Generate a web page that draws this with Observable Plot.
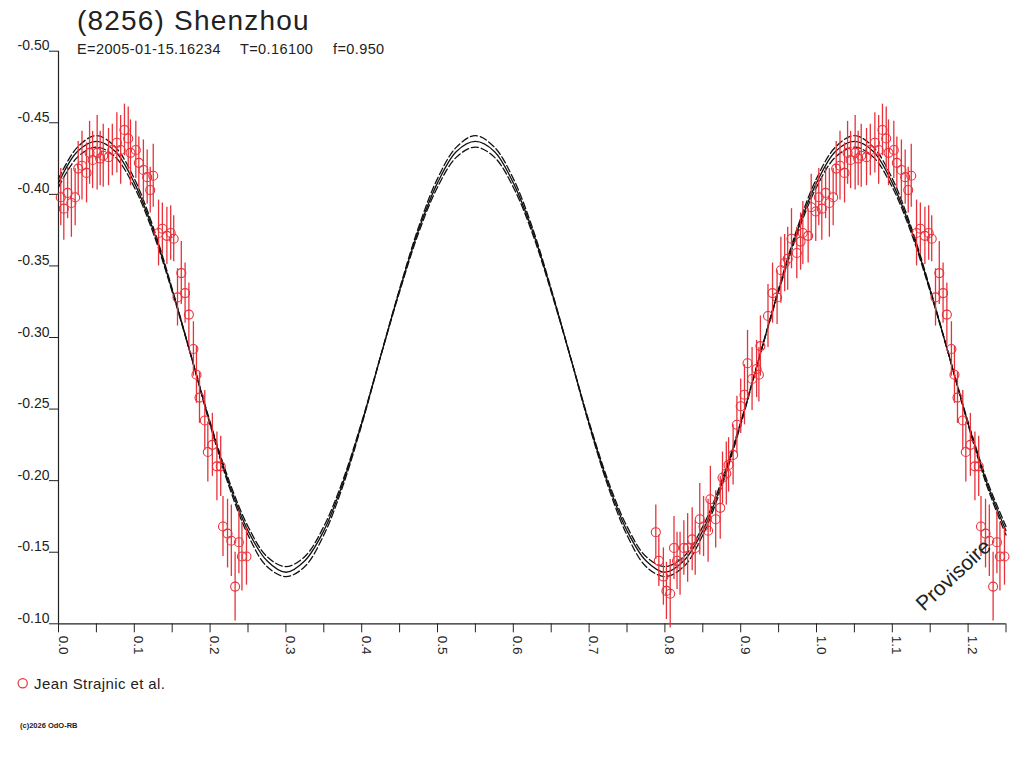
<!DOCTYPE html>
<html>
<head>
<meta charset="utf-8">
<script src="https://cdn.jsdelivr.net/npm/d3@7"></script>
<script src="https://cdn.jsdelivr.net/npm/@observablehq/plot@0.6"></script>
<style>
  html, body { margin: 0; padding: 0; background: #fff; }
  #chart { position: relative; width: 1024px; height: 768px; }
  svg { font-family: "Liberation Sans", Arial, sans-serif; }
</style>
</head>
<body>
<div id="chart"></div>
<script>
// ---- texts ----
const titleText = "(8256) Shenzhou";
const subE = "E=2005-01-15.16234";
const subT = "T=0.16100";
const subF = "f=0.950";
const legendLabel = "Jean Strajnic et al.";
const copyrightText = "(c)2026 OdO-RB";
const watermark = "Provisoire";

// ---- ticks ----
const yTicks = [-0.50, -0.45, -0.40, -0.35, -0.30, -0.25, -0.20, -0.15, -0.10];
const xLabelTicks = [0.0, 0.1, 0.2, 0.3, 0.4, 0.5, 0.6, 0.7, 0.8, 0.9, 1.0, 1.1, 1.2];
const xMinorTicks = [0.00, 0.05, 0.10, 0.15, 0.20, 0.25, 0.30, 0.35, 0.40, 0.45, 0.50, 0.55, 0.60,
  0.65, 0.70, 0.75, 0.80, 0.85, 0.90, 0.95, 1.00, 1.05, 1.10, 1.15, 1.20, 1.25];

// ---- fitted curve ----
const fitPhase = [0.000, 0.025, 0.050, 0.075, 0.100, 0.125, 0.150, 0.175, 0.200, 0.225,
  0.250, 0.275, 0.300, 0.325, 0.350, 0.375, 0.400, 0.425, 0.450, 0.475,
  0.500, 0.525, 0.550, 0.575, 0.600, 0.625, 0.650, 0.675, 0.700, 0.725,
  0.750, 0.775, 0.800, 0.825, 0.850, 0.875, 0.900, 0.925, 0.950, 0.975,
  1.000, 1.025, 1.050, 1.075, 1.100, 1.125, 1.150, 1.175, 1.200, 1.225, 1.250];
const fitMid = [-0.408, -0.430, -0.437, -0.430, -0.408, -0.375, -0.333, -0.287, -0.240, -0.198,
  -0.165, -0.144, -0.136, -0.144, -0.165, -0.198, -0.240, -0.287, -0.333, -0.375,
  -0.408, -0.430, -0.437, -0.430, -0.408, -0.375, -0.333, -0.287, -0.240, -0.198,
  -0.165, -0.144, -0.136, -0.144, -0.165, -0.198, -0.240, -0.287, -0.333, -0.375,
  -0.408, -0.430, -0.437, -0.430, -0.408, -0.375, -0.333, -0.287, -0.240, -0.198, -0.165];
const fitHigh = [-0.411, -0.433, -0.441, -0.433, -0.411, -0.377, -0.334, -0.287, -0.239, -0.196,
  -0.162, -0.140, -0.133, -0.140, -0.162, -0.196, -0.239, -0.287, -0.334, -0.377,
  -0.411, -0.433, -0.441, -0.433, -0.411, -0.377, -0.334, -0.287, -0.239, -0.196,
  -0.162, -0.140, -0.133, -0.140, -0.162, -0.196, -0.239, -0.287, -0.334, -0.377,
  -0.411, -0.433, -0.441, -0.433, -0.411, -0.377, -0.334, -0.287, -0.239, -0.196, -0.162];
const fitLow = [-0.405, -0.426, -0.433, -0.426, -0.405, -0.373, -0.332, -0.287, -0.241, -0.200,
  -0.168, -0.147, -0.140, -0.147, -0.168, -0.200, -0.241, -0.287, -0.332, -0.373,
  -0.405, -0.426, -0.433, -0.426, -0.405, -0.373, -0.332, -0.287, -0.241, -0.200,
  -0.168, -0.147, -0.140, -0.147, -0.168, -0.200, -0.241, -0.287, -0.332, -0.373,
  -0.405, -0.426, -0.433, -0.426, -0.405, -0.373, -0.332, -0.287, -0.241, -0.200, -0.168];

// ---- observations (phase, magnitude, error) ----
const obsPhase = [0.003, 0.007, 0.012, 0.017, 0.022, 0.026, 0.031, 0.037, 0.041, 0.045,
  0.051, 0.055, 0.059, 0.066, 0.071, 0.077, 0.082, 0.087, 0.092, 0.095,
  0.102, 0.106, 0.112, 0.117, 0.121, 0.125, 0.132, 0.137, 0.143, 0.148,
  0.152, 0.162, 0.157, 0.167, 0.172, 0.178, 0.182, 0.186, 0.193, 0.203,
  0.197, 0.209, 0.214, 0.217, 0.223, 0.228, 0.238, 0.242, 0.248, 0.233,
  0.788, 0.792, 0.798, 0.802, 0.807, 0.812, 0.816, 0.820, 0.825, 0.830,
  0.836, 0.840, 0.846, 0.851, 0.857, 0.860, 0.867, 0.873, 0.876, 0.881,
  0.884, 0.890, 0.895, 0.900, 0.905, 0.909, 0.915, 0.921, 0.926, 0.924,
  0.936, 0.942, 0.948, 0.953, 0.958, 0.962, 0.967, 0.974, 0.979, 0.982,
  0.989, 0.993, 0.999];
const obsMag = [-0.398, -0.390, -0.401, -0.394, -0.398, -0.418, -0.420, -0.415, -0.429, -0.424,
  -0.429, -0.425, -0.427, -0.426, -0.431, -0.436, -0.431, -0.445, -0.439, -0.429,
  -0.431, -0.422, -0.417, -0.412, -0.403, -0.413, -0.373, -0.376, -0.371, -0.373,
  -0.369, -0.345, -0.328, -0.331, -0.316, -0.292, -0.274, -0.258, -0.242, -0.225,
  -0.220, -0.210, -0.210, -0.168, -0.163, -0.158, -0.157, -0.147, -0.147, -0.126,
  -0.164, -0.144, -0.133, -0.123, -0.121, -0.153, -0.144, -0.142, -0.153, -0.153,
  -0.159, -0.153, -0.173, -0.168, -0.165, -0.187, -0.173, -0.181, -0.202, -0.205,
  -0.211, -0.218, -0.239, -0.252, -0.260, -0.282, -0.271, -0.278, -0.294, -0.274,
  -0.315, -0.331, -0.328, -0.347, -0.352, -0.355, -0.369, -0.359, -0.367, -0.373,
  -0.371, -0.391, -0.388];
const obsErr = [0.020, 0.022, 0.018, 0.024, 0.020, 0.019, 0.024, 0.021, 0.022, 0.020,
  0.026, 0.019, 0.022, 0.020, 0.018, 0.021, 0.024, 0.018, 0.022, 0.023,
  0.020, 0.018, 0.021, 0.019, 0.016, 0.022, 0.023, 0.018, 0.020, 0.019,
  0.016, 0.022, 0.020, 0.021, 0.022, 0.019, 0.020, 0.018, 0.021, 0.022,
  0.021, 0.024, 0.021, 0.021, 0.024, 0.025, 0.022, 0.024, 0.020, 0.024,
  0.019, 0.018, 0.020, 0.020, 0.024, 0.022, 0.020, 0.022, 0.019, 0.024,
  0.022, 0.019, 0.025, 0.021, 0.022, 0.023, 0.020, 0.022, 0.018, 0.022,
  0.019, 0.021, 0.020, 0.019, 0.021, 0.023, 0.022, 0.020, 0.021, 0.019,
  0.022, 0.021, 0.019, 0.023, 0.020, 0.022, 0.021, 0.018, 0.020, 0.022,
  0.019, 0.023, 0.021];

// ---- build tables ----
const fit = fitPhase.map((p, i) => ({p, mid: fitMid[i], hi: fitHigh[i], lo: fitLow[i]}));
const obs = [];
obsPhase.forEach((p, i) => {
  obs.push({p, m: obsMag[i], e: obsErr[i]});
  if (p + 1 <= 1.25) obs.push({p: p + 1, m: obsMag[i], e: obsErr[i]}); // folded repeat of phase
});

const red = "#e8323a";
const ink = "#222";
const W = 1024, H = 768;

const chart = Plot.plot({
  width: W,
  height: H,
  marginLeft: 58,
  marginRight: 18.5,
  marginTop: 50.7,
  marginBottom: 144.7,
  style: {background: "#fff", fontFamily: "'Liberation Sans', Arial, sans-serif", color: ink},
  x: {domain: [0, 1.25], label: null},
  y: {domain: [-0.5, -0.1], reverse: true, label: null},
  marks: [
    Plot.axisX({ticks: xMinorTicks, tickSize: 9, tickFormat: () => "", label: null, stroke: ink}),
    Plot.axisY({ticks: yTicks, tickSize: 9, tickFormat: () => "", label: null, stroke: ink}),
    Plot.ruleX([0], {y1: -0.5, y2: -0.1, stroke: ink, strokeWidth: 1.2}),
    Plot.ruleY([-0.1], {x1: 0, x2: 1.25, stroke: ink, strokeWidth: 1.2}),
    Plot.text(yTicks, {y: d => d, frameAnchor: "left", text: d => d.toFixed(2),
      textAnchor: "end", lineAnchor: "bottom", dx: -9, dy: -1, fontSize: 14, fill: ink}),
    Plot.text(xLabelTicks, {x: d => d, frameAnchor: "bottom", text: d => d.toFixed(1),
      rotate: 90, textAnchor: "start", lineAnchor: "bottom", dy: 12, dx: 0, fontSize: 13.5, fill: ink}),
    Plot.line(fit, {x: "p", y: "hi", curve: "catmull-rom", stroke: "#111", strokeWidth: 1.3, strokeDasharray: "7,3"}),
    Plot.line(fit, {x: "p", y: "lo", curve: "catmull-rom", stroke: "#111", strokeWidth: 1.3, strokeDasharray: "7,3"}),
    Plot.line(fit, {x: "p", y: "mid", curve: "catmull-rom", stroke: "#111", strokeWidth: 1.3}),
    Plot.ruleX(obs, {x: "p", y1: d => d.m - d.e, y2: d => d.m + d.e, stroke: red, strokeWidth: 1.3}),
    Plot.dot(obs, {x: "p", y: "m", r: 4.5, stroke: red, fill: "none", strokeWidth: 1.1})
  ]
});

const svg = d3.select(chart);
const font = "'Liberation Sans', Arial, sans-serif";
const addText = (t, x, y, size) => svg.append("text")
  .attr("x", x).attr("y", y).attr("font-size", size)
  .attr("text-anchor", "start").attr("fill", ink).attr("font-family", font).text(t);

addText(titleText, 77, 30, 28).attr("letter-spacing", 1.2);
[[subE, 77], [subT, 240], [subF, 333]].forEach(([t, x]) => addText(t, x, 54, 14.5).attr("letter-spacing", 0.4));
svg.append("circle").attr("cx", 22.7).attr("cy", 683.3).attr("r", 4.6)
  .attr("fill", "none").attr("stroke", red).attr("stroke-width", 1.2);
addText(legendLabel, 34, 688.5, 15).attr("letter-spacing", 0.4);
addText(copyrightText, 20, 728, 7.5).attr("font-weight", "bold");
addText(watermark, 924, 612, 21).attr("transform", "rotate(-43, 924, 612)");

document.getElementById("chart").appendChild(chart);
</script>
</body>
</html>
